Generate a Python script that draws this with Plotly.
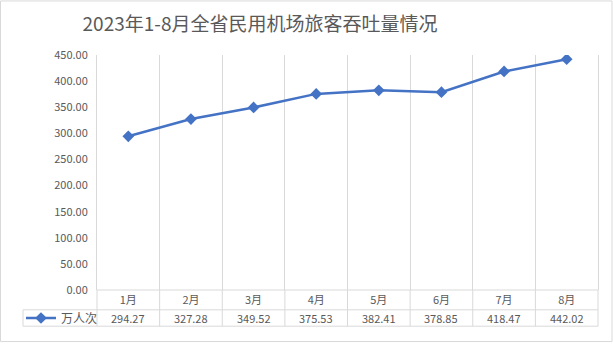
import plotly.graph_objects as go

months = ["1月", "2月", "3月", "4月", "5月", "6月", "7月", "8月"]
passengers = [294.27, 327.28, 349.52, 375.53, 382.41, 378.85, 418.47, 442.02]
series_name = "万人次"
title_text = "2023年1-8月全省民用机场旅客吞吐量情况"

W, H = 613, 345
L, R, T, B = 97, 15, 55, 53
PW, PH = W - L - R, H - T - B

def px_x(px):
    return (px - L) / PW

def px_y(py):
    return (H - B - py) / PH

FONT = "Noto Sans CJK SC, Microsoft YaHei, sans-serif"
GRID = "#d9d9d9"
TXT = "#595959"
BLUE = "#4472C4"

fig = go.Figure()
fig.add_trace(go.Scatter(
    x=months, y=passengers, name=series_name, mode="lines+markers",
    line=dict(color=BLUE, width=2.5),
    marker=dict(symbol="diamond", size=9, color=BLUE),
))

row1_bottom = px_y(312)
row2_bottom = px_y(328.5)
row2_mid = (row1_bottom + row2_bottom) / 2
n = len(months)

shapes = []
# vertical table lines (extension of gridlines into table)
for i in range(n + 1):
    shapes.append(dict(type="line", xref="paper", yref="paper",
                       x0=i / n, x1=i / n, y0=0, y1=row2_bottom,
                       line=dict(color=GRID, width=1)))
# horizontal table lines
shapes.append(dict(type="line", xref="paper", yref="paper", x0=0, x1=1,
                   y0=0, y1=0, line=dict(color=GRID, width=1)))
shapes.append(dict(type="line", xref="paper", yref="paper", x0=px_x(23), x1=1,
                   y0=row1_bottom, y1=row1_bottom, line=dict(color=GRID, width=1)))
shapes.append(dict(type="line", xref="paper", yref="paper", x0=px_x(23), x1=1,
                   y0=row2_bottom, y1=row2_bottom, line=dict(color=GRID, width=1)))
shapes.append(dict(type="line", xref="paper", yref="paper", x0=px_x(23), x1=px_x(23),
                   y0=row1_bottom, y1=row2_bottom, line=dict(color=GRID, width=1)))
# outer chart border
shapes.append(dict(type="rect", xref="paper", yref="paper",
                   x0=px_x(0.5), x1=px_x(612), y0=px_y(0.5), y1=px_y(344),
                   line=dict(color=GRID, width=1), fillcolor="rgba(0,0,0,0)"))

annotations = []
for m, v in zip(months, passengers):
    annotations.append(dict(x=m, xref="x", y=row2_mid, yref="paper",
                            text=f"{v:.2f}", showarrow=False,
                            font=dict(family=FONT, size=11, color=TXT),
                            xanchor="center", yanchor="middle"))

fig.update_layout(
    width=W, height=H,
    margin=dict(l=L, r=R, t=T, b=B, pad=0),
    paper_bgcolor="white", plot_bgcolor="white",
    font=dict(family=FONT, size=11, color=TXT),
    title=dict(text=title_text, x=260 / W, xref="container", xanchor="center",
               y=1 - 24 / H, yref="container", yanchor="middle",
               font=dict(family=FONT, size=19, color=TXT)),
    showlegend=True,
    legend=dict(x=px_x(21), y=row2_mid, xref="paper", yref="paper",
                xanchor="left", yanchor="middle", bgcolor="rgba(0,0,0,0)",
                font=dict(family=FONT, size=12, color=TXT), borderwidth=0,
                tracegroupgap=0, itemwidth=30),
    xaxis=dict(type="category", tickson="boundaries", showgrid=True,
               gridcolor=GRID, gridwidth=1, ticks="", showline=False,
               zeroline=False, tickfont=dict(family=FONT, size=11, color=TXT),
               ticklabelstandoff=2, range=[-0.5, n - 0.5]),
    yaxis=dict(range=[0, 450], dtick=50, tickformat=".2f", showgrid=False,
               zeroline=False, showline=True, mirror=True, linecolor=GRID,
               ticks="", tickfont=dict(family=FONT, size=11, color=TXT),
               ticklabelstandoff=6),
    shapes=shapes,
    annotations=annotations,
)

fig.write_html("out.html")
